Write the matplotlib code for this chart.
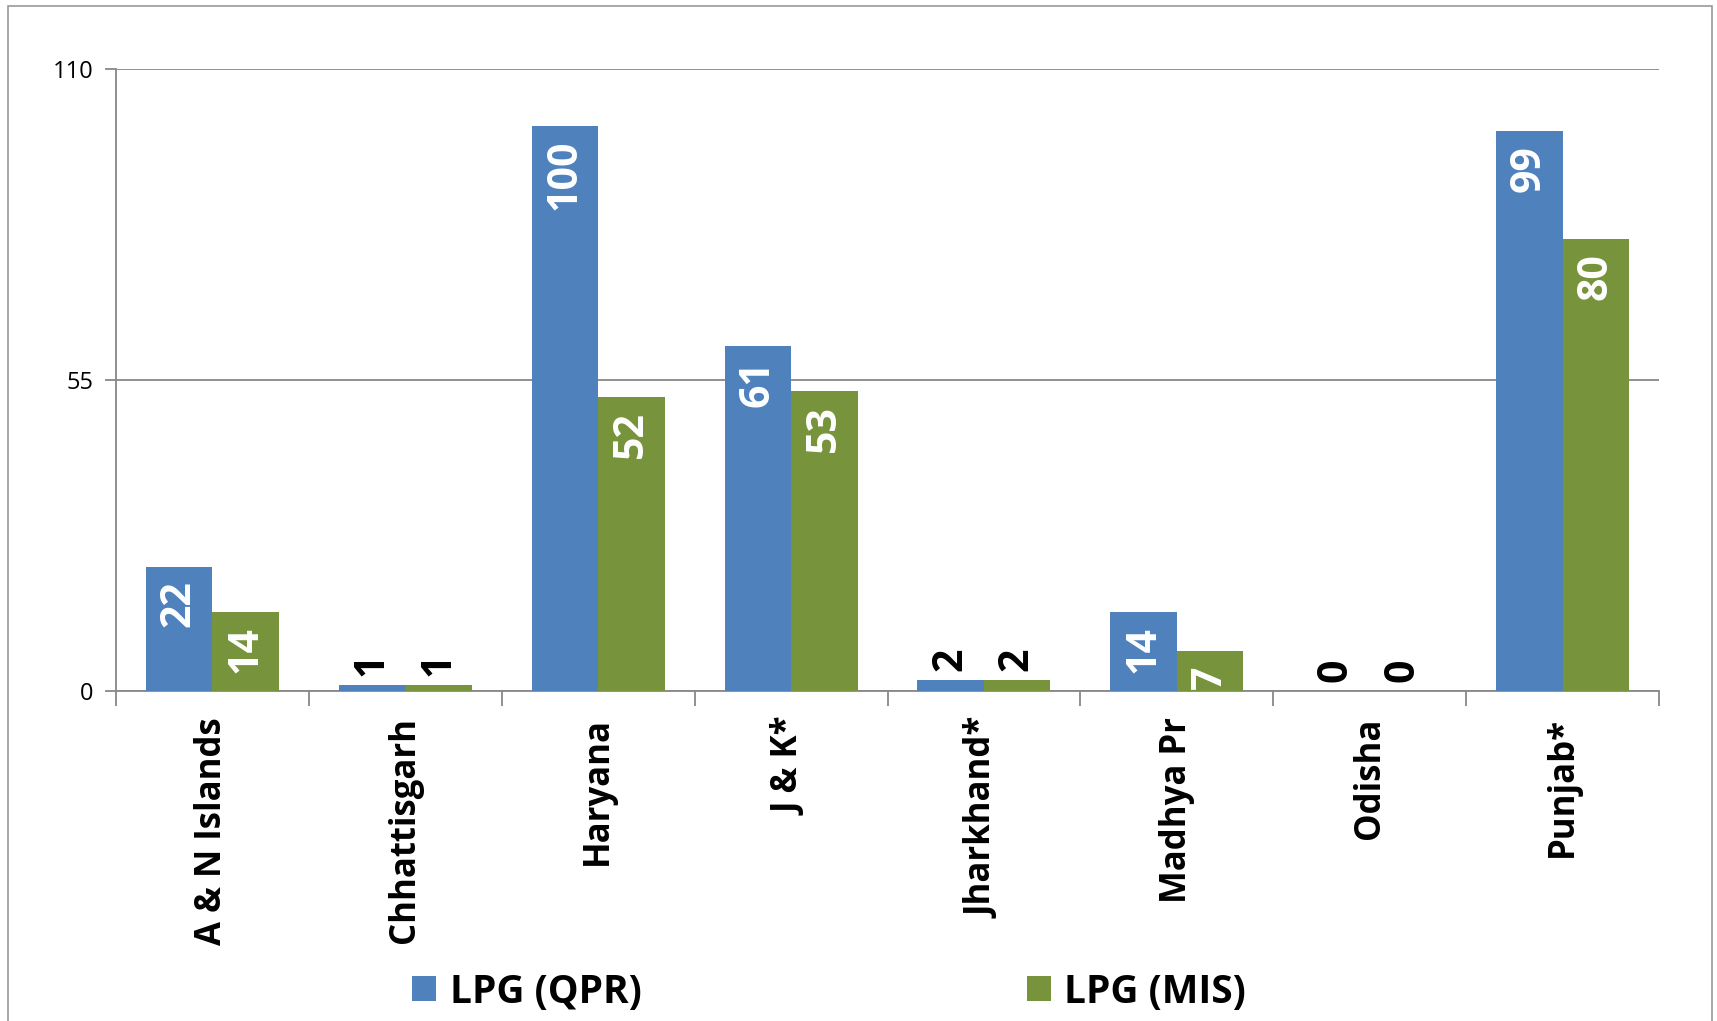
import matplotlib
matplotlib.use("Agg")
import matplotlib.pyplot as plt
import matplotlib.transforms as mtransforms
from matplotlib.patches import Rectangle, Patch
import numpy as np

categories = ["A & N Islands", "Chhattisgarh", "Haryana", "J & K*", "Jharkhand*",
              "Madhya Pr", "Odisha", "Punjab*"]
qpr = [22, 1, 100, 61, 2, 14, 0, 99]
mis = [14, 1, 52, 53, 2, 7, 0, 80]
series_names = ["LPG (QPR)", "LPG (MIS)"]
yticks = [0, 55, 110]

BLUE = "#4F81BD"
GREEN = "#77933C"
AXC = "#888888"
FONT = "Open Sans"

W, H = 1717, 1021
fig = plt.figure(figsize=(W / 100, H / 100), dpi=100)
ax = fig.add_axes([116 / W, 1 - 691 / H, (1659 - 116) / W, (691 - 69) / H])

x = np.arange(len(categories))
bw = 0.345
b1 = ax.bar(x - bw / 2, qpr, bw, color=BLUE, zorder=3)
b2 = ax.bar(x + bw / 2, mis, bw, color=GREEN, zorder=3)

for bars, vals in ((b1, qpr), (b2, mis)):
    for r, v in zip(bars, vals):
        cx = r.get_x() + r.get_width() / 2
        if v >= 5:
            ax.annotate(f"{v}", (cx, v), xytext=(0, -14), textcoords="offset pixels",
                        rotation=90, ha="center", va="top", color="white",
                        fontsize=29.5, fontweight="bold", family=FONT, zorder=4)
        else:
            ax.annotate(f"{v}", (cx, v), xytext=(0, 9), textcoords="offset pixels",
                        rotation=90, ha="center", va="bottom", color="black",
                        fontsize=29.5, fontweight="bold", family=FONT, zorder=4)

ax.set_xlim(-0.5, len(categories) - 0.5)
ax.set_ylim(0, 110)
ax.set_yticks(yticks)
ax.set_yticklabels([str(t) for t in yticks], fontsize=17, family=FONT)
ax.yaxis.grid(True, color=AXC, linewidth=1.3, zorder=0)
ax.set_axisbelow(True)

ax.set_xticks(x)
ax.set_xticklabels(categories, rotation=90, fontsize=25, fontweight="bold",
                   family=FONT, va="top", ha="center")
shift = mtransforms.ScaledTranslation(5 / 100, 0, fig.dpi_scale_trans)
for lab in ax.get_xticklabels():
    lab.set_transform(lab.get_transform() + shift)
ax.tick_params(axis="x", length=0, pad=19)
ax.set_xticks(np.arange(-0.5, len(categories)), minor=True)
ax.tick_params(axis="x", which="minor", length=11, width=1.3, color=AXC, direction="out")
ax.tick_params(axis="y", length=8, width=1.3, color=AXC, pad=8)

for s in ("top", "right"):
    ax.spines[s].set_visible(False)
for s in ("left", "bottom"):
    ax.spines[s].set_color(AXC)
    ax.spines[s].set_linewidth(1.3)

handles = [Patch(facecolor=BLUE), Patch(facecolor=GREEN)]
leg = fig.legend(handles, series_names, loc="center", ncol=2,
                 bbox_to_anchor=(829 / W, 1 - 992 / H), frameon=False,
                 prop={"family": FONT, "weight": "bold", "size": 28},
                 handlelength=0.62, handleheight=0.62, handletextpad=0.35,
                 columnspacing=9.9)

fig.patches.append(Rectangle((8 / W, -0.05), (1712 - 8) / W, 1.05 - 6 / H,
                             transform=fig.transFigure, fill=False,
                             edgecolor="#999999", linewidth=1.2))

fig.savefig("out.png", dpi=100)
